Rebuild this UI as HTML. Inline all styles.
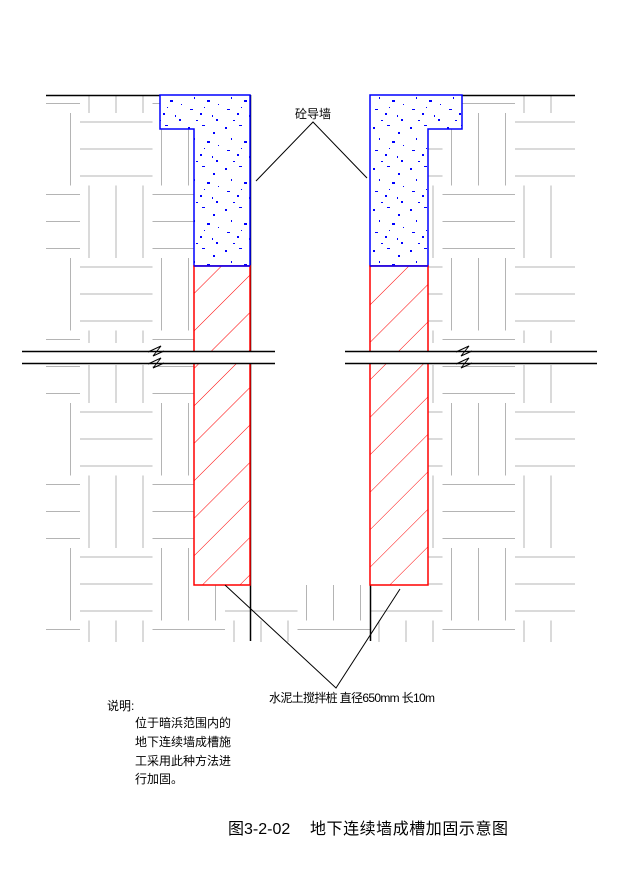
<!DOCTYPE html>
<html><head><meta charset="utf-8"><style>
html,body{margin:0;padding:0;background:#fff;}
svg{display:block;}
text{font-family:"Liberation Sans","Noto Sans CJK SC","WenQuanYi Zen Hei",sans-serif;fill:#000;}
</style></head><body>
<svg width="617" height="884" viewBox="0 0 617 884" xmlns="http://www.w3.org/2000/svg">
<defs>
<pattern id="bw" patternUnits="userSpaceOnUse" x="7.5" y="113" width="145" height="145">
<g stroke="#b4b4b4" stroke-width="1" fill="none">
<line x1="9" y1="0" x2="9" y2="72.5"/><line x1="36" y1="0" x2="36" y2="72.5"/><line x1="63" y1="0" x2="63" y2="72.5"/>
<line x1="81.5" y1="72.5" x2="81.5" y2="145"/><line x1="108.5" y1="72.5" x2="108.5" y2="145"/><line x1="135.5" y1="72.5" x2="135.5" y2="145"/>
<line x1="72.5" y1="9" x2="145" y2="9"/><line x1="72.5" y1="36" x2="145" y2="36"/><line x1="72.5" y1="63" x2="145" y2="63"/>
<line x1="0" y1="81.5" x2="72.5" y2="81.5"/><line x1="0" y1="108.5" x2="72.5" y2="108.5"/><line x1="0" y1="135.5" x2="72.5" y2="135.5"/>
</g>
</pattern>
<pattern id="sp" patternUnits="userSpaceOnUse" x="0" y="0" width="37" height="41">
<g fill="#0000ff">
<rect x="3" y="4" width="2" height="2"/><rect x="17" y="2" width="3" height="1"/><rect x="28" y="9" width="2" height="2"/>
<rect x="9" y="15" width="1" height="2"/><rect x="22" y="18" width="3" height="2"/><rect x="33" y="22" width="1" height="1"/>
<rect x="5" y="27" width="3" height="1"/><rect x="15" y="31" width="2" height="2"/><rect x="27" y="33" width="1" height="2"/>
<rect x="11" y="38" width="2" height="1"/><rect x="31" y="37" width="2" height="2"/><rect x="19" y="25" width="1" height="1"/>
</g>
</pattern>
<pattern id="hatch" patternUnits="userSpaceOnUse" x="0" y="0" width="26.5" height="26.5" patternTransform="rotate(45)">
<line x1="0" y1="0" x2="0" y2="26.5" stroke="#ff0000" stroke-width="1"/>
</pattern>
</defs>

<rect x="46" y="95" width="529" height="547" fill="url(#bw)"/>
<rect x="250" y="95" width="120" height="490" fill="#fff"/>
<rect x="0" y="343" width="617" height="22" fill="#fff"/>

<g stroke="#000" stroke-width="1.5" fill="none">
<line x1="46" y1="95.5" x2="160" y2="95.5"/>
<line x1="462" y1="95.5" x2="575" y2="95.5"/>
<line x1="250.5" y1="95" x2="250.5" y2="641"/>
<line x1="370.5" y1="95" x2="370.5" y2="641"/>
</g>

<polygon points="160,95 250,95 250,266 194,266 194,129 160,129" fill="#fff"/>
<polygon points="160,95 250,95 250,266 194,266 194,129 160,129" fill="url(#sp)" stroke="#0000ff" stroke-width="1.5"/>
<polygon points="370,95 462,95 462,129 428,129 428,266 370,266" fill="#fff"/>
<polygon points="370,95 462,95 462,129 428,129 428,266 370,266" fill="url(#sp)" stroke="#0000ff" stroke-width="1.5"/>

<rect x="194" y="266" width="56" height="319" fill="#fff"/>
<rect x="194" y="266" width="56" height="319" fill="url(#hatch)" stroke="#ff0000" stroke-width="1.5"/>
<rect x="370" y="266" width="58" height="319" fill="#fff"/>
<rect x="370" y="266" width="58" height="319" fill="url(#hatch)" stroke="#ff0000" stroke-width="1.5"/>
<line x1="194" y1="266" x2="250" y2="266" stroke="#0000ff" stroke-width="1.5"/>
<line x1="370" y1="266" x2="428" y2="266" stroke="#0000ff" stroke-width="1.5"/>

<rect x="0" y="352" width="617" height="11" fill="#fff"/>
<g stroke="#000" stroke-width="1.5" fill="none">
<line x1="22" y1="351.5" x2="275" y2="351.5"/>
<line x1="22" y1="363.5" x2="275" y2="363.5"/>
<line x1="345" y1="351.5" x2="597" y2="351.5"/>
<line x1="345" y1="363.5" x2="597" y2="363.5"/>
</g>
<g stroke="#000" stroke-width="1" fill="none">
<polyline points="148,352 161,346 153,356 164,351"/>
<polyline points="148,364 161,358 153,368 164,363"/>
<polyline points="456,352 469,346 461,356 472,351"/>
<polyline points="456,364 469,358 461,368 472,363"/>
</g>

<g stroke="#000" stroke-width="1" fill="none">
<polyline points="256,181 313,122 367,178"/>
<polyline points="225,585 336,688 400,589"/>
</g>

<text x="313" y="118" font-size="12" text-anchor="middle">砼导墙</text>
<text x="269" y="702" font-size="12" textLength="166">水泥土搅拌桩 直径650mm 长10m</text>

<text x="107" y="710" font-size="12">说明:</text>
<text x="135" y="727" font-size="12">位于暗浜范围内的</text>
<text x="135" y="746" font-size="12">地下连续墙成槽施</text>
<text x="135" y="765" font-size="12">工采用此种方法进</text>
<text x="135" y="783" font-size="12">行加固。</text>

<text x="228" y="834" font-size="16">图3-2-02</text>
<text x="310" y="834" font-size="16" textLength="198">地下连续墙成槽加固示意图</text>
</svg>
</body></html>
